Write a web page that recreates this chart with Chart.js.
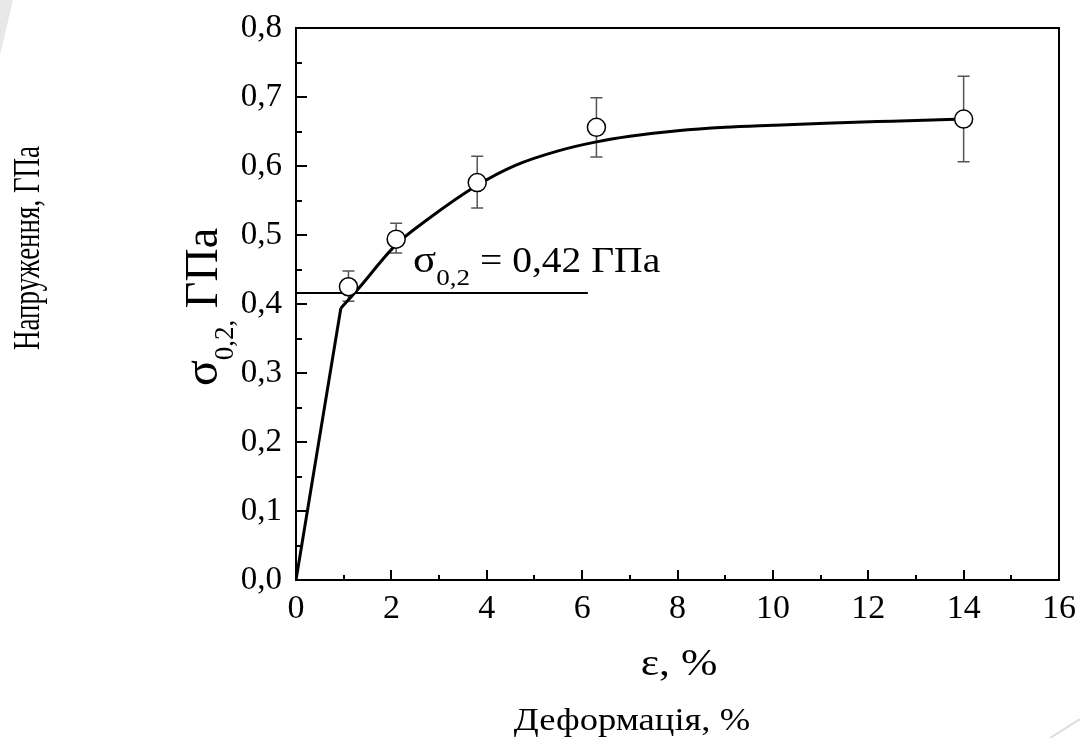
<!DOCTYPE html>
<html><head><meta charset="utf-8">
<script src="https://cdn.jsdelivr.net/npm/chart.js@4/dist/chart.umd.min.js"></script>
<style>html,body{margin:0;padding:0;background:#fff;}#wrap{width:1080px;height:738px;position:relative;}</style>
</head><body><div id="wrap"><canvas id="c" width="1080" height="738"></canvas></div>
<script>
// measured points (strain %, stress GPa) with error bar limits
const strainPts = [1.1, 2.1, 3.8, 6.3, 14.0];
const stressPts = [0.425, 0.494, 0.576, 0.656, 0.668];
const errLow  = [0.404, 0.474, 0.539, 0.613, 0.606];
const errHigh = [0.448, 0.517, 0.614, 0.699, 0.730];
// elastic segment
const elasticX = [0, 0.94];
const elasticY = [0, 0.394];
// fitted hardening curve
const fitX = [0.94, 1.28, 2.1, 2.75, 3.8, 4.6, 5.5, 6.3, 7.0, 8.0, 9.0, 10.0, 11.1, 12.5, 14.0];
const fitY = [0.394, 0.420, 0.486, 0.522, 0.572, 0.601, 0.622, 0.635, 0.643, 0.651, 0.656, 0.659, 0.662, 0.665, 0.668];
// yield stress line
const yieldX = [0, 6.12];
const yieldY = [0.416, 0.416];
// ticks
const xTickLabels = ['0','2','4','6','8','10','12','14','16'];
const yTickLabels = ['0,0','0,1','0,2','0,3','0,4','0,5','0,6','0,7','0,8'];
const xMinorStep = 1;
const yMinorStep = 0.05;

const SERIF = '"Liberation Serif","DejaVu Serif",serif';
const zip = (xs, ys) => xs.map((v, i) => ({x: v, y: ys[i]}));

function stretchedText(ctx, parts, x, y, sx, rotate) {
  ctx.save();
  ctx.translate(x, y);
  ctx.scale(sx, 1);
  if (rotate) ctx.rotate(-Math.PI / 2);
  let total = 0;
  parts.forEach(p => { ctx.font = p.size + 'px ' + SERIF; total += ctx.measureText(p.t).width; });
  let cx = parts.align === 'left' ? 0 : -total / 2;
  ctx.textBaseline = 'alphabetic';
  ctx.textAlign = 'left';
  ctx.fillStyle = '#000';
  parts.forEach(p => {
    ctx.font = p.size + 'px ' + SERIF;
    ctx.fillText(p.t, cx, p.dy || 0);
    cx += ctx.measureText(p.t).width;
  });
  ctx.restore();
}

const deco = {
  id: 'deco',
  beforeDraw(chart) {
    const ctx = chart.ctx;
    ctx.save();
    ctx.fillStyle = '#fff';
    ctx.fillRect(0, 0, chart.width, chart.height);
    ctx.fillStyle = '#e8e8e8';
    ctx.beginPath(); ctx.moveTo(0, 0); ctx.lineTo(13, 0); ctx.lineTo(0, 55); ctx.closePath(); ctx.fill();
    ctx.strokeStyle = '#dcdcdc'; ctx.lineWidth = 2;
    ctx.beginPath(); ctx.moveTo(1080, 719); ctx.lineTo(1050, 738); ctx.stroke();
    ctx.restore();
  },
  beforeDatasetsDraw(chart) {
    const {ctx, scales: {x, y}} = chart;
    ctx.save();
    ctx.strokeStyle = '#555'; ctx.lineWidth = 1.5;
    strainPts.forEach((v, i) => {
      const px = x.getPixelForValue(v);
      const p1 = y.getPixelForValue(errLow[i]);
      const p2 = y.getPixelForValue(errHigh[i]);
      ctx.beginPath();
      ctx.moveTo(px, p1); ctx.lineTo(px, p2);
      ctx.moveTo(px - 6, p1); ctx.lineTo(px + 6, p1);
      ctx.moveTo(px - 6, p2); ctx.lineTo(px + 6, p2);
      ctx.stroke();
    });
    ctx.restore();
  },
  afterDraw(chart) {
    const {ctx, chartArea: a, scales: {x, y}} = chart;
    ctx.save();
    ctx.strokeStyle = '#000'; ctx.lineWidth = 2;
    ctx.beginPath();
    for (let v = x.min + xMinorStep; v < x.max - 1e-9; v += xMinorStep) {
      const px = Math.round(x.getPixelForValue(v));
      const major = Math.round(v) % 2 === 0;
      ctx.moveTo(px, a.bottom); ctx.lineTo(px, a.bottom - (major ? 10 : 5));
    }
    for (let i = 1; i < Math.round((y.max - y.min) / yMinorStep); i++) {
      const py = Math.round(y.getPixelForValue(y.min + i * yMinorStep));
      ctx.moveTo(a.left, py); ctx.lineTo(a.left + (i % 2 === 0 ? 11 : 6), py);
    }
    ctx.stroke();
    ctx.strokeRect(a.left, a.top, a.right - a.left, a.bottom - a.top);
    ctx.restore();

    // annotation
    const ap = [{t: 'σ', size: 38}, {t: '0,2', size: 24, dy: 13}, {t: ' = 0,42 ГПа', size: 35}];
    ap.align = 'left';
    stretchedText(ctx, ap, 413, 272, 1.13, false);
    // axis titles
    stretchedText(ctx, [{t: 'ε, %', size: 38}], 679, 675, 1.15, false);
    stretchedText(ctx, [{t: 'Деформація, %', size: 31}], 632, 730, 1.18, false);
    const yt = [{t: 'σ', size: 48}, {t: '0,2', size: 27, dy: 16}, {t: ',', size: 27, dy: 16}, {t: ' ГПа', size: 46}];
    yt.align = 'left';
    stretchedText(ctx, yt, 217, 386, 1.0, true);
    stretchedText(ctx, [{t: 'Напруження, ГПа', size: 27}], 39, 248, 1.38, true);
  }
};

new Chart(document.getElementById('c'), {
  type: 'scatter',
  data: {
    datasets: [
      { label: 'points', data: zip(strainPts, stressPts), showLine: false,
        pointRadius: 9, pointBackgroundColor: '#fff', pointBorderColor: '#000', pointBorderWidth: 1.5 },
      { label: 'fit', data: zip(fitX, fitY), showLine: true, borderColor: '#000', borderWidth: 3,
        pointRadius: 0, cubicInterpolationMode: 'monotone', fill: false },
      { label: 'elastic', data: zip(elasticX, elasticY), showLine: true, borderColor: '#000', borderWidth: 3,
        pointRadius: 0, fill: false },
      { label: 'yield', data: zip(yieldX, yieldY), showLine: true, borderColor: '#000', borderWidth: 2,
        pointRadius: 0, fill: false }
    ]
  },
  options: {
    responsive: false, animation: false, devicePixelRatio: 1,
    layout: {padding: {top: 28, right: 21, left: 0, bottom: 0}},
    plugins: {legend: {display: false}, tooltip: {enabled: false}},
    scales: {
      x: {
        type: 'linear', min: 0, max: 16,
        grid: {display: false, drawTicks: false},
        border: {display: false},
        ticks: {stepSize: 2, padding: 9, color: '#000', maxRotation: 0, font: {family: SERIF, size: 34},
          callback: (v) => xTickLabels[Math.round(v / 2)] ?? ''},
        afterFit: (s) => { s.height = 158; s.paddingLeft = 0; s.paddingRight = 0; }
      },
      y: {
        type: 'linear', min: 0, max: 0.8,
        grid: {display: false, drawTicks: false},
        border: {display: false},
        ticks: {stepSize: 0.1, padding: 14, color: '#000', font: {family: SERIF, size: 33},
          callback: (v) => yTickLabels[Math.round(v * 10)] ?? ''},
        afterFit: (s) => { s.width = 296; s.paddingTop = 0; s.paddingBottom = 0; }
      }
    }
  },
  plugins: [deco]
});
</script>
</body></html>
